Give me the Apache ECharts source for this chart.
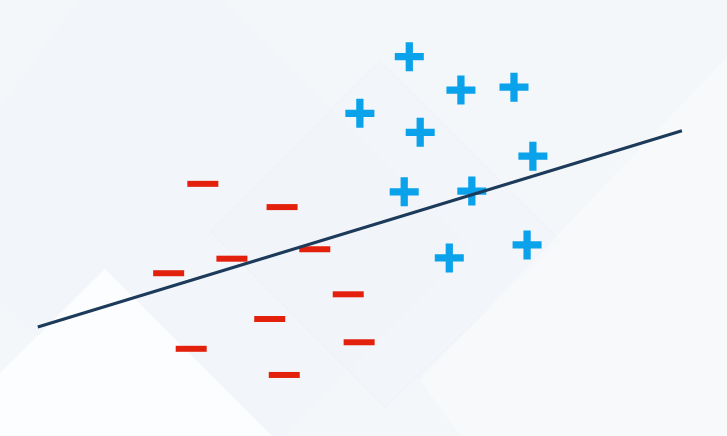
<!DOCTYPE html>
<html style="height: 100%">
<head>
    <meta charset="utf-8">
    <title>plus / minus</title>
    <script type="text/javascript" src="https://cdn.jsdelivr.net/npm/echarts@6/dist/echarts.min.js"></script>
</head>
<body style="height: 100%; margin: 0">
    <div id="container" style="width: 727px; height: 436px"></div>
    <script type="text/javascript">
        // 正类 (+) 的点
        var plusX = [5.63, 6.34, 7.07, 4.95, 5.78, 7.33, 5.56, 6.49, 6.18, 7.25];
        var plusY = [5.22, 4.76, 4.80, 4.44, 4.18, 3.85, 3.36, 3.37, 2.45, 2.63];
        // 负类 (-) 的点
        var minusX = [2.79, 3.88, 4.33, 3.19, 2.32, 4.79, 3.71, 2.63, 4.94, 3.91];
        var minusY = [3.47, 3.15, 2.57, 2.44, 2.24, 1.95, 1.61, 1.20, 1.29, 0.84];
        // 分界线两端
        var lineX = [0.52, 9.38];
        var lineY = [1.50, 4.20];

        function pairs(xs, ys) {
            var out = [];
            for (var i = 0; i < xs.length; i++) {
                out.push([xs[i], ys[i]]);
            }
            return out;
        }

        var myChart = echarts.init(document.getElementById("container"));

        var option = {
            backgroundColor: '#f4f7fa',
            animation: false,
            // 背景里淡淡的斜方块
            graphic: [
                {
                    type: 'polygon', z: -10, silent: true,
                    shape: { points: [[222, 0], [470, 248], [210, 508], [-80, 218], [138, -80]] },
                    style: { fill: '#eff3f7', opacity: 0.5 }
                },
                {
                    type: 'polygon', z: -9, silent: true,
                    shape: { points: [[210, 231], [380, 61], [560, 241], [385, 407]] },
                    style: { fill: '#f0f4f8', opacity: 0.6, stroke: '#e9eef4', lineWidth: 1 }
                },
                {
                    type: 'polygon', z: -8, silent: true,
                    shape: { points: [[727, 57], [727, 436], [460, 436], [420, 380]] },
                    style: { fill: '#f7f9fb', opacity: 0.8 }
                },
                {
                    type: 'polygon', z: -7, silent: true,
                    shape: { points: [[0, 373], [105, 269], [272, 436], [0, 436]] },
                    style: { fill: '#fcfdfe' }
                }
            ],
            grid: { left: 0, right: 0, top: 0, bottom: 0 },
            xAxis: { type: 'value', min: 0, max: 10, show: false },
            yAxis: { type: 'value', min: 0, max: 6, show: false },
            series: [
                {
                    name: 'plus',
                    type: 'scatter',
                    symbol: 'path://M3,0H5V3H8V5H5V8H3V5H0V3H3Z',
                    symbolSize: 29,
                    itemStyle: { color: '#0aa2ea', opacity: 1 },
                    data: pairs(plusX, plusY)
                },
                {
                    name: 'minus',
                    type: 'scatter',
                    symbol: 'rect',
                    symbolSize: [31, 6],
                    itemStyle: { color: '#e3200c', opacity: 1 },
                    data: pairs(minusX, minusY)
                },
                {
                    name: 'boundary',
                    type: 'line',
                    symbol: 'none',
                    z: 5,
                    lineStyle: { color: '#1c3a5a', width: 3 },
                    data: pairs(lineX, lineY)
                }
            ]
        };
        myChart.setOption(option, true);
    </script>
</body>
</html>
